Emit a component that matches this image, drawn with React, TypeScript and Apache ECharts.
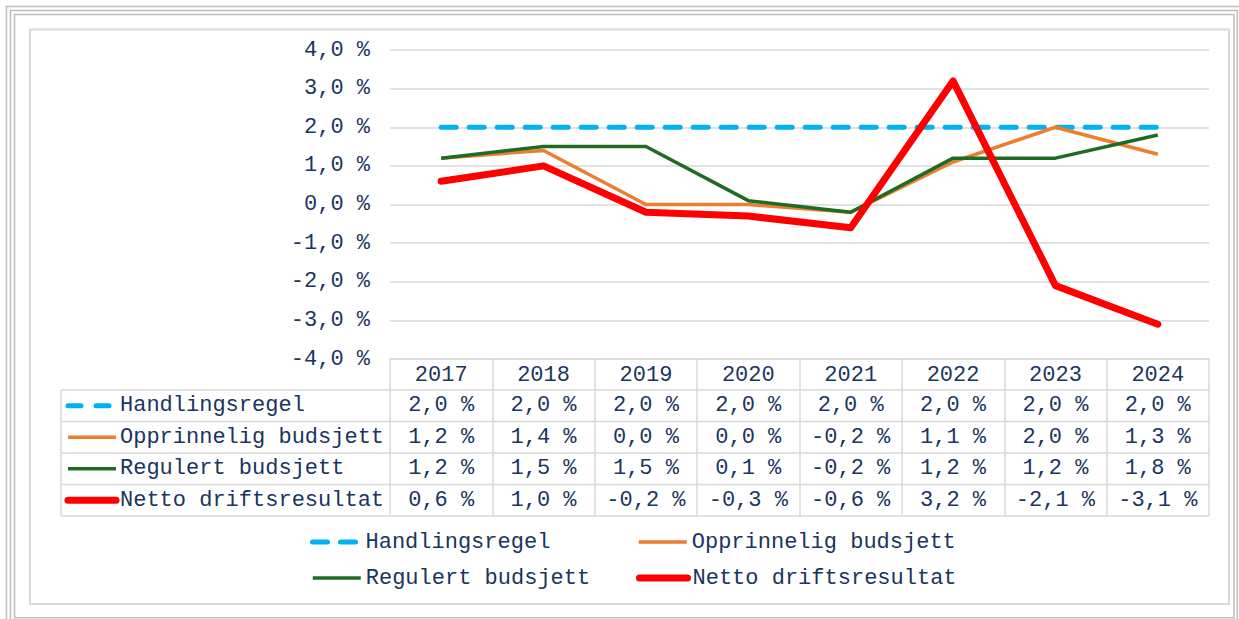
import React, { useEffect, useRef } from "react";
import * as echarts from "echarts";

const years = ["2017", "2018", "2019", "2020", "2021", "2022", "2023", "2024"];
const seriesNames = ["Handlingsregel", "Opprinnelig budsjett", "Regulert budsjett", "Netto driftsresultat"];
const handlingsregel = [2.0, 2.0, 2.0, 2.0, 2.0, 2.0, 2.0, 2.0];
const opprinnelig = [1.2, 1.4, 0.0, 0.0, -0.2, 1.1, 2.0, 1.3];
const regulert = [1.2, 1.5, 1.5, 0.1, -0.2, 1.2, 1.2, 1.8];
const netto = [0.6, 1.0, -0.2, -0.3, -0.6, 3.2, -2.1, -3.1];
const yTicks = { min: -4, max: 4, interval: 1 };

const FONT = "'Liberation Mono', 'Courier New', monospace";
const TXT = "#1A355E";
const GRID = "#D9D9D9";
const FS = 22;

const styles = [
  { color: "#00B0F0", width: 5, type: [15, 13] as any, cap: "round" },
  { color: "#ED7D31", width: 3.5, type: "solid", cap: "butt" },
  { color: "#1E6B24", width: 3.5, type: "solid", cap: "butt" },
  { color: "#FF0000", width: 7, type: "solid", cap: "round" },
];

const fmt = (v: number) => v.toFixed(1).replace(".", ",") + " %";

export default function App() {
  const ref = useRef<HTMLDivElement>(null);
  useEffect(() => {
    const chart = echarts.init(ref.current!, null, { renderer: "svg" });
    const allData = [handlingsregel, opprinnelig, regulert, netto];
    const legendPos = [
      { left: 310, top: 531 },
      { left: 637, top: 531 },
      { left: 311, top: 567 },
      { left: 636, top: 567 },
    ];
    chart.setOption({
      animation: false,
      backgroundColor: "#ffffff",
      grid: { left: 390, right: 30, top: 50, bottom: 260 },
      xAxis: {
        type: "category",
        data: years,
        boundaryGap: true,
        axisLine: { show: true, onZero: false, lineStyle: { color: GRID, width: 1.5 } },
        axisTick: { show: true, interval: 0, length: 157, lineStyle: { color: GRID, width: 1.5 } },
        axisLabel: {
          interval: 0,
          margin: 16,
          verticalAlign: "middle",
          fontFamily: FONT,
          fontSize: FS,
          color: TXT,
        },
      },
      yAxis: {
        type: "value",
        min: yTicks.min,
        max: yTicks.max,
        interval: yTicks.interval,
        axisLine: { show: false },
        axisTick: { show: false },
        splitLine: { show: true, lineStyle: { color: GRID, width: 1.5 } },
        axisLabel: {
          margin: 20,
          fontFamily: FONT,
          fontSize: FS,
          color: TXT,
          formatter: (v: number) => fmt(v),
        },
      },
      legend: seriesNames.map((n, i) => ({
        data: [n],
        left: legendPos[i].left,
        top: legendPos[i].top,
        padding: 0,
        itemWidth: 48,
        itemHeight: 22,
        selectedMode: false,
        itemStyle: { opacity: 0, borderWidth: 0 },
        lineStyle: {
          color: styles[i].color,
          width: styles[i].width,
          type: styles[i].type,
          cap: styles[i].cap,
        },
        textStyle: { fontFamily: FONT, fontSize: FS, color: TXT },
      })),
      series: seriesNames.map((n, i) => ({
        name: n,
        type: "line",
        data: allData[i],
        symbol: "none",
        showSymbol: false,
        silent: true,
        lineStyle: {
          color: styles[i].color,
          width: styles[i].width,
          type: styles[i].type,
          cap: styles[i].cap,
          join: "round",
        },
        itemStyle: { color: styles[i].color },
        z: 2 + i,
      })),
    });

    const xs = years.map((_, i) => chart.convertToPixel({ xAxisIndex: 0 }, i) as number);
    const yBottom = chart.convertToPixel({ yAxisIndex: 0 }, yTicks.min) as number;
    const headerH = 31;
    const rowH = 31.5;
    const tableLeft = 61;
    const tableRight = chart.getWidth() - 30;
    const rowTops = [0, 1, 2, 3, 4].map((k) => yBottom + headerH + k * rowH);
    const graphics: any[] = [];

    // outer frame
    graphics.push(
      { type: "rect", silent: true, shape: { x: 6.5, y: 6.5, width: 1250, height: 640 }, style: { fill: "none", stroke: "#BDBDBD", lineWidth: 1.5 } },
      { type: "rect", silent: true, shape: { x: 10.5, y: 10.5, width: 1226.8, height: 640 }, style: { fill: "none", stroke: "#BDBDBD", lineWidth: 1.5 } },
      { type: "rect", silent: true, shape: { x: 14.5, y: 14.5, width: 1219.5, height: 603.2 }, style: { fill: "none", stroke: "#BDBDBD", lineWidth: 1.5 } },
      { type: "rect", silent: true, shape: { x: 30, y: 29.5, width: 1199, height: 574.5 }, style: { fill: "none", stroke: "#D9D9D9", lineWidth: 2 } }
    );

    // table horizontal lines
    rowTops.forEach((y) => {
      graphics.push({ type: "line", silent: true, shape: { x1: tableLeft, y1: y, x2: tableRight, y2: y }, style: { stroke: GRID, lineWidth: 1.5 } });
    });
    graphics.push({ type: "line", silent: true, shape: { x1: tableLeft, y1: rowTops[0], x2: tableLeft, y2: rowTops[4] }, style: { stroke: GRID, lineWidth: 1.5 } });

    // table rows
    seriesNames.forEach((n, r) => {
      const cy = (rowTops[r] + rowTops[r + 1]) / 2;
      const s = styles[r];
      graphics.push({
        type: "line",
        silent: true,
        shape: { x1: 68, y1: cy, x2: r === 0 ? 110 : 116, y2: cy },
        style: {
          stroke: s.color,
          lineWidth: s.width,
          lineDash: r === 0 ? [13, 15] : null,
          lineCap: s.cap === "round" || r === 0 ? "round" : "butt",
        },
      });
      graphics.push({
        type: "text",
        silent: true,
        x: 120,
        y: cy,
        style: { text: n, fontFamily: FONT, fontSize: FS, fill: TXT, align: "left", verticalAlign: "middle" },
      });
      allData[r].forEach((v, c) => {
        graphics.push({
          type: "text",
          silent: true,
          x: xs[c],
          y: cy,
          style: { text: fmt(v), fontFamily: FONT, fontSize: FS, fill: TXT, align: "center", verticalAlign: "middle" },
        });
      });
    });

    chart.setOption({ graphic: graphics });
    return () => chart.dispose();
  }, []);
  return <div ref={ref} style={{ position: "fixed", left: 0, top: 0, width: 1239, height: 619 }} />;
}
